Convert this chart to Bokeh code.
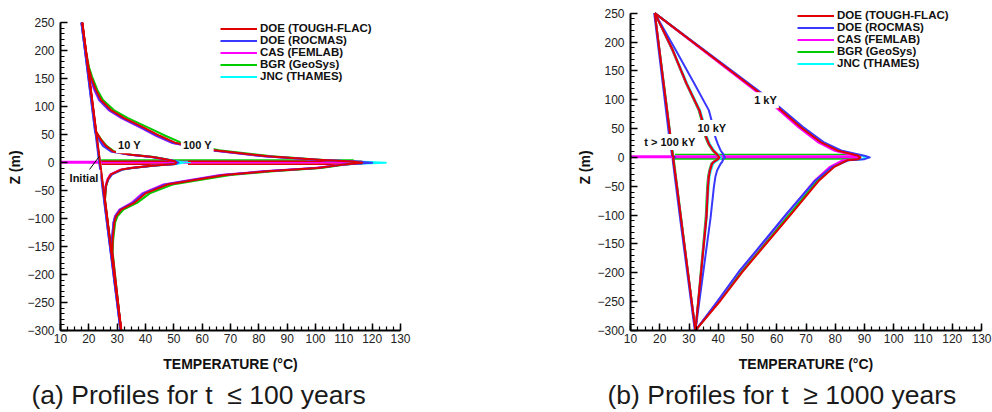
from bokeh.plotting import figure
from bokeh.layouts import row
from bokeh.models import Range1d, SingleIntervalTicker, Label, Legend, LegendItem, Title
from bokeh.embed import file_html
from bokeh.resources import INLINE

MODELS = ["DOE (TOUGH-FLAC)", "DOE (ROCMAS)", "CAS (FEMLAB)", "BGR (GeoSys)", "JNC (THAMES)"]
COLORS = ["#e00000", "#3838ff", "#ff00ff", "#00cc00", "#00ffff"]

# ---------------- (a) profiles for t <= 100 years ----------------
A_INIT_Z = [250, -300]
A_INIT_T = [[17.7, 31.5], [17.4, 31.2], [17.6, 31.4], [17.6, 31.4], [17.6, 31.4]]

A10_UP_Z = [250, 55, 41, 30, 20, 17, 14, 10, 6, 2.5]
A10_UP_T = [
    [17.7, 22.6, 24.3, 26.0, 28.6, 31.5, 35.0, 42.5, 47.0, 50.3],
    [17.4, 22.2, 23.6, 25.0, 27.8, 30.8, 34.5, 42.0, 46.8, 50.6],
    [17.6, 22.5, 24.0, 25.6, 28.2, 31.2, 34.7, 42.2, 46.8, 50.3],
    [17.6, 22.5, 24.4, 26.3, 29.0, 32.0, 35.5, 43.0, 47.3, 50.5],
    [17.6, 22.5, 24.2, 25.9, 28.5, 31.4, 34.9, 42.6, 47.2, 51.0],
]
A10_PEAK_T = [50.8, 51.6, 50.8, 50.9, 53.5]
A10_LOW_Z = [-2.5, -5, -9.5, -12.5, -21, -30, -42, -66, -300]
A10_LOW_T = [
    [50.3, 43.0, 34.9, 31.4, 27.8, 26.7, 26.0, 25.7, 31.4],
    [50.6, 43.5, 35.4, 31.9, 28.2, 26.9, 26.0, 25.4, 31.2],
    [50.3, 42.6, 34.6, 31.1, 27.6, 26.5, 25.9, 25.6, 31.4],
    [50.5, 43.3, 35.2, 31.7, 28.0, 26.8, 26.1, 25.7, 31.4],
    [51.0, 43.2, 35.1, 31.6, 27.9, 26.7, 26.0, 25.6, 31.4],
]

A100_UP_Z = [250, 200, 170, 153, 130, 112, 94, 79.5, 62, 48, 35, 22, 11.3, 5.3, 2.0]
A100_UP_T = [
    [17.7, 19.0, 19.9, 20.8, 22.5, 24.3, 27.8, 32.5, 39.6, 45.0, 50.8, 64.3, 83.1, 100.8, 113.0],
    [17.4, 18.7, 19.6, 20.5, 22.1, 23.8, 27.2, 31.8, 38.7, 44.0, 49.8, 63.3, 82.0, 100.0, 114.0],
    [17.6, 18.8, 19.6, 20.4, 21.9, 23.6, 27.0, 31.5, 38.4, 43.7, 49.5, 63.0, 81.8, 100.0, 113.5],
    [17.6, 18.9, 20.1, 21.2, 23.0, 25.0, 28.8, 33.8, 41.2, 47.0, 53.0, 66.0, 84.5, 101.5, 113.5],
    [17.6, 18.9, 19.8, 20.6, 22.3, 24.0, 27.5, 32.1, 39.1, 44.5, 50.3, 63.8, 82.6, 100.5, 114.5],
]
A100_PEAK_T = [116.5, 120.0, 117.0, 116.0, 124.8]
A100_LOW_Z = [-2.0, -4, -9.4, -15.5, -22, -30, -39, -55, -72, -84, -96, -107, -137, -160, -300]
A100_LOW_T = [
    [113.0, 109.0, 100.8, 83.2, 68.0, 58.4, 47.8, 40.0, 36.0, 31.4, 29.6, 29.0, 28.4, 28.3, 31.4],
    [114.0, 109.0, 100.5, 82.5, 67.3, 57.6, 47.0, 39.3, 35.4, 31.0, 29.3, 28.7, 28.1, 28.0, 31.2],
    [113.5, 108.5, 99.5, 81.5, 66.3, 56.8, 46.3, 38.8, 35.0, 30.8, 29.2, 28.7, 28.2, 28.2, 31.4],
    [113.0, 110.0, 102.0, 85.0, 70.0, 60.2, 49.5, 41.5, 37.0, 32.2, 30.1, 29.3, 28.6, 28.4, 31.4],
    [114.5, 109.0, 100.8, 83.0, 67.8, 58.2, 47.6, 39.8, 35.8, 31.3, 29.6, 29.0, 28.4, 28.3, 31.4],
]

# profiles traced along the drift axis (model index, z, T from, T to)
A_BAND_MODEL = [3, 2, 4, 0, 0, 0, 0]
A_BAND_Z = [4.5, 0.5, 0.5, 2.5, -3.0, 2.5, -3.0]
A_BAND_T0 = [24.3, 10.0, 50.0, 24.5, 24.5, 55.0, 55.0]
A_BAND_T1 = [113.5, 116.5, 56.0, 50.8, 50.8, 116.5, 116.5]

A_LABEL_TEXT = ["10 Y", "100 Y", "Initial"]
A_LABEL_T = [29.6, 52.5, 12.5]
A_LABEL_Z = [31, 31, -27]
A_LEADER_T = [20.2, 23.7]
A_LEADER_Z = [-12.5, 11.2]

# ---------------- (b) profiles for t >= 1000 years ----------------
B1_UP_Z = [250, 113, 87, 52.6, 26.6, 12, 6.4, 3.0]
B1_UP_T = [
    [18.3, 53.9, 60.3, 68.1, 75.0, 80.7, 85.2, 87.8],
    [18.3, 54.5, 61.0, 69.0, 76.0, 82.0, 86.8, 90.0],
    [18.3, 53.3, 59.6, 67.3, 74.0, 79.5, 84.0, 87.0],
    [18.3, 53.7, 60.1, 67.9, 74.7, 80.4, 85.0, 87.7],
    [18.3, 54.0, 60.6, 68.5, 75.5, 81.3, 86.0, 89.0],
]
B1_PEAK_T = [88.6, 91.8, 88.0, 88.4, 91.0]
B1_LOW_Z = [-3.0, -5, -17, -40, -98, -161.5, -199, -248, -300]
B1_LOW_T = [
    [87.8, 84.0, 79.5, 74.5, 65.0, 54.4, 48.2, 40.8, 32.2],
    [90.0, 84.5, 78.8, 73.2, 63.3, 53.0, 46.9, 39.9, 32.2],
    [87.0, 82.5, 78.0, 73.0, 63.5, 53.2, 47.0, 40.0, 32.2],
    [87.7, 83.7, 79.1, 74.0, 64.5, 54.0, 47.8, 40.5, 32.2],
    [89.0, 84.0, 78.8, 73.6, 64.0, 53.6, 47.4, 40.2, 32.2],
]

B10_UP_Z = [250, 185.6, 127.9, 81.5, 52.6, 35, 23.8, 12, 6.4, 2.5]
B10_UP_T = [
    [18.3, 24.5, 29.2, 33.6, 35.2, 35.9, 36.8, 38.3, 39.4, 40.0],
    [18.3, 25.5, 31.8, 36.8, 38.3, 39.0, 39.8, 40.8, 41.6, 42.0],
    [18.3, 24.4, 29.1, 33.5, 35.1, 35.8, 36.7, 38.2, 39.3, 40.0],
    [18.3, 24.3, 29.0, 33.3, 34.9, 35.6, 36.5, 38.0, 39.1, 39.8],
    [18.3, 24.6, 29.4, 33.8, 35.5, 36.2, 37.1, 38.6, 39.7, 40.4],
]
B10_PEAK_T = [40.4, 42.3, 40.4, 40.2, 41.0]
B10_LOW_Z = [-2.5, -8, -11, -22.6, -34, -51.5, -103.6, -300]
B10_LOW_T = [
    [40.0, 38.5, 37.9, 37.2, 36.8, 36.5, 36.0, 32.2],
    [41.8, 41.3, 40.8, 39.6, 39.0, 38.5, 37.4, 32.2],
    [40.0, 38.4, 37.8, 37.1, 36.7, 36.4, 35.9, 32.2],
    [39.8, 38.2, 37.6, 36.9, 36.5, 36.2, 35.7, 32.2],
    [40.5, 39.0, 38.3, 37.5, 37.0, 36.7, 36.1, 32.2],
]

B100_Z = [250, 125, 41, 3, 0, -3, -51.5, -103.6, -300]
B100_T = [
    [18.3, 21.4, 23.5, 24.4, 24.8, 24.6, 25.9, 27.2, 32.2],
    [18.1, 21.1, 23.1, 24.2, 25.3, 24.4, 25.6, 26.9, 32.0],
    [18.3, 21.4, 23.5, 24.4, 24.7, 24.6, 25.9, 27.2, 32.2],
    [18.3, 21.5, 23.6, 24.6, 24.9, 24.8, 26.0, 27.3, 32.2],
    [18.3, 21.4, 23.5, 24.5, 24.9, 24.6, 25.9, 27.2, 32.2],
]

B_BAND_MODEL = [3, 3, 2]
B_BAND_Z = [5.0, -2.5, 1.0]
B_BAND_T0 = [25.2, 25.2, 10.0]
B_BAND_T1 = [87.5, 87.5, 87.5]

B_LABEL_TEXT = ["1 kY", "10 kY", "t > 100 kY"]
B_LABEL_T = [51.6, 32.2, 14.0]
B_LABEL_Z = [99, 51, 26.6]

CAPTIONS = ["(a) Profiles for t\u00a0 \u2264 100 years", "(b) Profiles for t\u00a0 \u2265 1000 years"]

FONT = "Liberation Sans"
Z_AXIS = (-300, 250)
T_AXIS = (10, 130)
BORDER_TOP = 4
BORDER_BOTTOM = 81


def make_panel(width, z_top, border_left, border_right):
    # the frame reaches above the z axis (which stops at 250 m) so the legend has room
    p = figure(width=width, height=412, x_range=Range1d(*T_AXIS), y_range=Range1d(Z_AXIS[0], z_top),
               output_backend="svg", toolbar_location=None, title=None,
               min_border_left=border_left, min_border_right=border_right,
               min_border_top=BORDER_TOP, min_border_bottom=BORDER_BOTTOM)
    p.outline_line_color = None
    p.grid.visible = False
    p.yaxis.bounds = Z_AXIS
    p.xaxis.ticker = SingleIntervalTicker(interval=10, num_minor_ticks=4)
    p.yaxis.ticker = SingleIntervalTicker(interval=50, num_minor_ticks=5)
    p.xaxis.axis_label = "TEMPERATURE (\u00b0C)"
    p.yaxis.axis_label = "Z (m)"
    for ax in (p.xaxis[0], p.yaxis[0]):
        ax.axis_line_width = 2
        ax.axis_line_color = "black"
        ax.major_tick_in = 7
        ax.major_tick_out = 0
        ax.minor_tick_in = 4
        ax.minor_tick_out = 0
        ax.major_tick_line_width = 1.5
        ax.minor_tick_line_width = 1.2
        ax.major_tick_line_color = "black"
        ax.minor_tick_line_color = "black"
        ax.major_label_text_font = FONT
        ax.major_label_text_font_size = "12px"
        ax.major_label_text_color = "#222222"
        ax.axis_label_text_font = FONT
        ax.axis_label_text_font_size = "14px"
        ax.axis_label_text_font_style = "bold"
        ax.axis_label_text_color = "#111111"
    p.xaxis.major_label_standoff = 3
    p.yaxis.major_label_standoff = 6
    p.xaxis.axis_label_standoff = 10
    p.yaxis.axis_label_standoff = 1
    return p


def draw_band(p, models, zs, t0s, t1s):
    for m, z, a, b in zip(models, zs, t0s, t1s):
        width = 3 if m == 2 else 1.6
        p.line([a, b], [z, z], line_color=COLORS[m], line_width=width)


def draw_profiles(p, branches):
    last = {}
    for m in reversed(range(len(MODELS))):
        for zs, ts in branches:
            last[m] = p.line(ts[m], zs, line_color=COLORS[m], line_width=2, line_join="round")
    return last


def joined(up_z, up_t, peak_t, low_z, low_t):
    zs = up_z + [0.0] + low_z
    ts = [up_t[m] + [peak_t[m]] + low_t[m] for m in range(len(MODELS))]
    return zs, ts


def add_legend(p, renderers, x, y):
    items = [LegendItem(label=MODELS[m], renderers=[renderers[m]]) for m in range(len(MODELS))]
    leg = Legend(items=items, location=(x, y), orientation="vertical",
                 background_fill_alpha=0, border_line_color=None,
                 padding=0, margin=0, spacing=0,
                 glyph_width=37, glyph_height=11, label_height=11, label_standoff=3,
                 label_text_font=FONT, label_text_font_size="11.5px",
                 label_text_font_style="bold", label_text_color="#111111")
    p.add_layout(leg)


def add_labels(p, texts, ts, zs):
    for txt, t, z in zip(texts, ts, zs):
        p.add_layout(Label(x=t, y=z, text=txt, text_align="left", text_baseline="middle",
                           text_font=FONT, text_font_size="11px", text_font_style="bold",
                           text_color="#111111", background_fill_color="white",
                           padding=2))


def add_caption(p, text, offset):
    p.add_layout(Title(text=text, align="left", offset=offset, standoff=6,
                       text_font=FONT, text_font_size="26.5px", text_font_style="normal",
                       text_color="#1a1a1a"), "below")


# ---- panel (a)
pa = make_panel(496, 282.6, 60, 96)
draw_band(pa, A_BAND_MODEL, A_BAND_Z, A_BAND_T0, A_BAND_T1)
branches_a = [
    (A_INIT_Z, A_INIT_T),
    joined(A10_UP_Z, A10_UP_T, A10_PEAK_T, A10_LOW_Z, A10_LOW_T),
    joined(A100_UP_Z, A100_UP_T, A100_PEAK_T, A100_LOW_Z, A100_LOW_T),
]
rend_a = draw_profiles(pa, branches_a)
pa.line(A_LEADER_T, A_LEADER_Z, line_color="black", line_width=1)
add_labels(pa, A_LABEL_TEXT, A_LABEL_T, A_LABEL_Z)
add_legend(pa, rend_a, 160, 248)
add_caption(pa, CAPTIONS[0], -29)

# ---- panel (b)
pb = make_panel(496, 265.0, 134, 11)
draw_band(pb, B_BAND_MODEL, B_BAND_Z, B_BAND_T0, B_BAND_T1)
branches_b = [
    (B100_Z, B100_T),
    joined(B10_UP_Z, B10_UP_T, B10_PEAK_T, B10_LOW_Z, B10_LOW_T),
    joined(B1_UP_Z, B1_UP_T, B1_PEAK_T, B1_LOW_Z, B1_LOW_T),
]
rend_b = draw_profiles(pb, branches_b)
add_labels(pb, B_LABEL_TEXT, B_LABEL_T, B_LABEL_Z)
add_legend(pb, rend_b, 167, 261)
add_caption(pb, CAPTIONS[1], -23)

layout = row(pa, pb)
open("out.html", "w").write(file_html(layout, INLINE))
